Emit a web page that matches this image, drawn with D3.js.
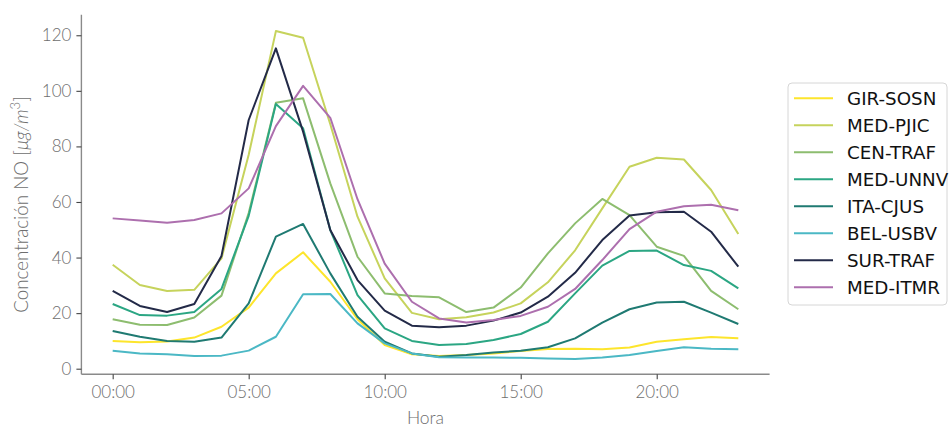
<!DOCTYPE html>
<html>
<head>
<meta charset="utf-8">
<script src="https://cdn.jsdelivr.net/npm/d3@7"></script>
<style>
	body { margin: 0; background: #fff; }
	.tick text { font-family: Lato, 'Open Sans', sans-serif; font-weight: 300; }
</style>
</head>
<body>
<div id="chart"></div>
<script>
// hours of the day
const hours = d3.range(0, 24);
const xTickValues = [0, 5, 10, 15, 20];
const yTickValues = [0, 20, 40, 60, 80, 100, 120];

const stationNames = ['GIR-SOSN', 'MED-PJIC', 'CEN-TRAF', 'MED-UNNV', 'ITA-CJUS', 'BEL-USBV', 'SUR-TRAF', 'MED-ITMR'];
const stationColors = ['#fde52c', '#c6d35c', '#8dbd6f', '#2ba683', '#1f7a72', '#4bb8c5', '#232a48', '#ad6fae'];

const girSosn = [10.0, 9.5, 9.8, 11.2, 15.1, 22.0, 34.3, 41.9, 31.3, 17.8, 8.5, 5.2, 4.6, 4.9, 5.5, 6.4, 7.1, 7.2, 7.0, 7.6, 9.7, 10.6, 11.4, 11.0];
const medPjic = [37.4, 30.1, 28.0, 28.4, 39.7, 77.0, 121.5, 119.1, 88.0, 54.7, 32.5, 20.1, 17.8, 18.5, 20.2, 23.5, 31.1, 42.6, 57.7, 72.7, 75.9, 75.3, 64.3, 48.5];
const cenTraf = [17.8, 15.8, 15.7, 18.4, 26.3, 56.0, 95.7, 97.3, 66.7, 40.3, 27.1, 26.2, 25.7, 20.4, 22.0, 29.2, 41.5, 52.3, 61.1, 55.3, 43.9, 40.6, 28.0, 21.4];
const medUnnv = [23.3, 19.3, 19.1, 20.4, 28.7, 55.0, 95.3, 86.5, 49.9, 26.5, 14.5, 10.0, 8.5, 8.9, 10.3, 12.5, 16.9, 27.1, 37.1, 42.4, 42.5, 37.3, 35.2, 28.9];
const itaCjus = [13.6, 11.5, 10.0, 9.7, 11.2, 23.5, 47.5, 52.1, 34.3, 18.7, 9.7, 5.5, 4.3, 4.9, 5.8, 6.5, 7.7, 10.9, 16.6, 21.4, 23.8, 24.1, 20.2, 16.1];
const belUsbv = [6.5, 5.5, 5.2, 4.6, 4.7, 6.5, 11.5, 26.8, 26.9, 16.3, 9.1, 5.5, 4.1, 4.0, 4.0, 3.9, 3.7, 3.5, 4.0, 4.9, 6.4, 7.7, 7.2, 7.0];
const surTraf = [28.0, 22.6, 20.4, 23.3, 40.6, 89.5, 115.3, 85.3, 49.9, 31.9, 20.9, 15.5, 14.9, 15.5, 17.3, 20.2, 25.9, 34.5, 46.3, 55.1, 56.3, 56.5, 49.3, 36.7];
const medItmr = [54.1, 53.3, 52.5, 53.5, 55.9, 64.9, 87.3, 101.8, 90.3, 61.0, 37.8, 24.1, 18.1, 16.6, 17.5, 19.0, 22.3, 28.7, 39.1, 50.2, 56.5, 58.5, 59.0, 57.0];

const seriesValues = [girSosn, medPjic, cenTraf, medUnnv, itaCjus, belUsbv, surTraf, medItmr];

// set the dimensions and margins of the graph
const margin = { top: 14.7, right: 181.4, bottom: 52.7, left: 81.4 },
	width = 951 - margin.left - margin.right,
	height = 427 - margin.top - margin.bottom;

const svg = d3
	.select('#chart')
	.append('svg')
	.attr('width', 951)
	.attr('height', 427)
	.append('g')
	.attr('transform', `translate(${margin.left},${margin.top})`);

// X axis (matplotlib style 5% margins)
const x = d3.scaleLinear().domain([-1.15, 24.15]).range([0, width]);
const y = d3.scaleLinear().domain([-2.015, 127.4]).range([height, 0]);

const gx = svg.append('g')
	.attr('transform', `translate(0, ${height})`)
	.call(
		d3.axisBottom(x)
			.tickValues(xTickValues)
			.tickSize(5)
			.tickPadding(7)
			.tickFormat((d) => String(d).padStart(2, '0') + ':00')
	);

const gy = svg.append('g')
	.call(d3.axisLeft(y).tickValues(yTickValues).tickSize(5).tickPadding(5));

[gx, gy].forEach((g) => {
	g.select('.domain').attr('stroke', '#8a8a8a').attr('stroke-width', 1.4)
		.attr('d', g === gx ? `M0,0H${width}` : `M0,0V${height}`);
	g.selectAll('.tick line').attr('stroke', '#444').attr('stroke-width', 1.1);
	g.selectAll('.tick text').attr('fill', '#6e6e6e').style('font-size', '17px');
});

// lines
const line = d3.line()
	.x((d, i) => x(hours[i]))
	.y((d) => y(d));

seriesValues.forEach((vals, i) => {
	svg.append('path')
		.datum(vals)
		.attr('fill', 'none')
		.attr('stroke', stationColors[i])
		.attr('stroke-width', 2)
		.attr('stroke-linejoin', 'round')
		.attr('d', line);
});

// axis labels
svg.append('text')
	.attr('x', width / 2)
	.attr('y', height + 50)
	.attr('text-anchor', 'middle')
	.attr('fill', '#6e6e6e')
	.style('font-family', 'Lato, sans-serif')
	.style('font-weight', 300)
	.style('font-size', '17.5px')
	.text('Hora');

const yLabel = svg.append('text')
	.attr('transform', `translate(${-53}, ${height / 2 + 10}) rotate(-90)`)
	.attr('text-anchor', 'middle')
	.attr('fill', '#6e6e6e')
	.style('font-family', 'Lato, sans-serif')
	.style('font-weight', 300)
	.style('font-size', '18.8px');
yLabel.append('tspan').text('Concentración NO [');
yLabel.append('tspan').style('font-style', 'italic').text('μg/m');
yLabel.append('tspan').attr('dy', -8).style('font-size', '13px').text('3');
yLabel.append('tspan').attr('dy', 8).text(']');

// legend
const legend = d3.select('svg').append('g').attr('transform', 'translate(788, 83)');
legend.append('rect')
	.attr('width', 159)
	.attr('height', 222)
	.attr('rx', 4)
	.attr('fill', '#fff')
	.attr('stroke', '#d6d6d6');

const rows = legend.selectAll('g.row')
	.data(stationNames)
	.enter()
	.append('g')
	.attr('transform', (d, i) => `translate(0, ${15.3 + i * 27})`);
rows.append('line')
	.attr('x1', 6).attr('x2', 45)
	.attr('stroke', (d, i) => stationColors[i])
	.attr('stroke-width', 2);
rows.append('text')
	.attr('x', 59)
	.attr('dy', '0.36em')
	.attr('fill', '#111')
	.style('font-family', 'DejaVu Sans, sans-serif')
	.style('font-size', '18.3px')
	.text((d) => d);
</script>
</body>
</html>
